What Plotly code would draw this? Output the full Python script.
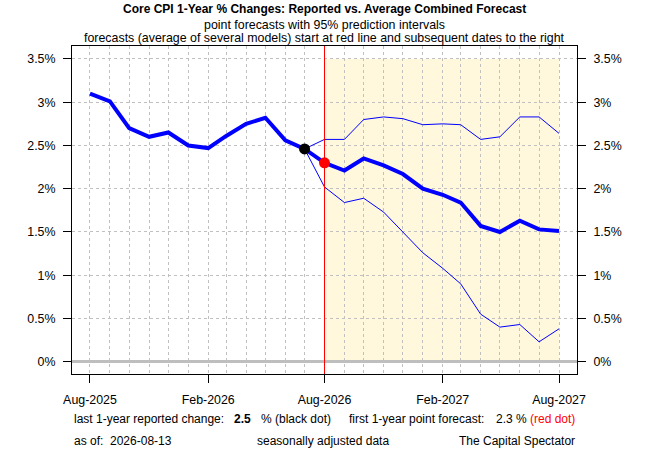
import plotly.graph_objects as go

# reported core CPI, 1-year % change (monthly)
actual_dates = ["2025-08-01", "2025-09-01", "2025-10-01", "2025-11-01", "2025-12-01", "2026-01-01",
                "2026-02-01", "2026-03-01", "2026-04-01", "2026-05-01", "2026-06-01", "2026-07-01"]
actual_vals = [3.10, 3.01, 2.70, 2.60, 2.65, 2.50, 2.47, 2.61, 2.75, 2.82, 2.56, 2.46]

# average combined forecast with 95% prediction interval
fc_dates = ["2026-08-01", "2026-09-01", "2026-10-01", "2026-11-01", "2026-12-01", "2027-01-01", "2027-02-01",
            "2027-03-01", "2027-04-01", "2027-05-01", "2027-06-01", "2027-07-01", "2027-08-01"]
fc_mean = [2.30, 2.21, 2.35, 2.27, 2.17, 2.00, 1.93, 1.84, 1.57, 1.50, 1.63, 1.53, 1.51]
fc_upper = [2.57, 2.57, 2.80, 2.83, 2.81, 2.74, 2.75, 2.74, 2.57, 2.60, 2.83, 2.83, 2.64]
fc_lower = [2.02, 1.84, 1.89, 1.73, 1.50, 1.26, 1.08, 0.90, 0.55, 0.40, 0.43, 0.23, 0.38]

tick_dates = ["2025-08-01", "2026-02-01", "2026-08-01", "2027-02-01", "2027-08-01"]
tick_labels = ["Aug-2025", "Feb-2026", "Aug-2026", "Feb-2027", "Aug-2027"]
y_ticks = [0, 0.5, 1, 1.5, 2, 2.5, 3, 3.5]
y_labels = ["0%", "0.5%", "1%", "1.5%", "2%", "2.5%", "3%", "3.5%"]

FONT = "Liberation Sans, Arial, sans-serif"
FS = 12.4
GRID = "#c0c0c0"

fig = go.Figure()

# bands start at the last reported point
band_x = [actual_dates[-1]] + fc_dates
fig.add_trace(go.Scatter(x=band_x, y=[actual_vals[-1]] + fc_upper, mode="lines",
                         line=dict(color="#0000ff", width=1), hoverinfo="skip"))
fig.add_trace(go.Scatter(x=band_x, y=[actual_vals[-1]] + fc_lower, mode="lines",
                         line=dict(color="#0000ff", width=1), hoverinfo="skip"))
fig.add_trace(go.Scatter(x=actual_dates + fc_dates, y=actual_vals + fc_mean, mode="lines",
                         line=dict(color="#0000ff", width=4)))
fig.add_trace(go.Scatter(x=[actual_dates[-1]], y=[actual_vals[-1]], mode="markers",
                         marker=dict(color="black", size=11)))
fig.add_trace(go.Scatter(x=[fc_dates[0]], y=[fc_mean[0]], mode="markers", yaxis="y2",
                         marker=dict(color="red", size=11)))

# forecast zone
fig.add_shape(type="rect", xref="x", yref="y", x0=fc_dates[0], x1=fc_dates[-1],
              y0=y_ticks[0], y1=y_ticks[-1], fillcolor="#fff8dc", line_width=0, layer="below")
fig.add_shape(type="line", xref="x", yref="paper", x0=fc_dates[0], x1=fc_dates[0], y0=0, y1=1,
              line=dict(color="red", width=1), layer="above")

yax = dict(range=[-0.142, 3.65], tickvals=y_ticks, ticktext=y_labels, ticks="outside", ticklen=8,
           tickcolor="black", showline=True, linecolor="black", linewidth=1,
           tickfont=dict(size=FS, color="black", family=FONT), ticklabelstandoff=5)

fig.update_layout(
    width=650, height=450,
    margin=dict(l=72, r=73, t=46, b=76),
    paper_bgcolor="white", plot_bgcolor="white",
    showlegend=False,
    font=dict(family=FONT, size=FS, color="black"),
    xaxis=dict(type="date", range=["2025-07-04", "2027-08-29"], tickvals=tick_dates, ticktext=tick_labels,
               ticks="outside", ticklen=8, tickcolor="black", showline=True, mirror=True,
               linecolor="black", linewidth=1, showgrid=True, gridcolor=GRID, griddash="dot",
               tickfont=dict(size=FS, color="black", family=FONT), ticklabelstandoff=6,
               minor=dict(dtick="M1", tick0="2025-08-01", showgrid=True, gridcolor=GRID,
                          griddash="dot", ticks="")),
    yaxis=dict(**yax, side="left", showgrid=True, gridcolor=GRID, griddash="dot",
               zeroline=True, zerolinecolor="#bebebe", zerolinewidth=3),
    yaxis2=dict(**yax, side="right", overlaying="y", matches="y", showgrid=False, zeroline=False),
)

ann = []
top_lines = [("<b>Core CPI 1-Year % Changes: Reported vs. Average Combined Forecast</b>", 1.114, 12),
             ("point forecasts with 95% prediction intervals", 1.064, FS),
             ("forecasts (average of several models) start at red line and subsequent dates to the right", 1.024, FS)]
for txt, yy, sz in top_lines:
    ann.append(dict(text=txt, x=0.5, y=yy, xanchor="center", font=dict(size=sz)))

l1, l2 = -0.138, -0.203
ann += [
    dict(text="last 1-year reported change:", x=0, y=l1, xanchor="left"),
    dict(text="<b>%.1f</b>" % actual_vals[-1], x=0.316, y=l1, xanchor="left"),
    dict(text="% (black dot)", x=0.370, y=l1, xanchor="left"),
    dict(text="first 1-year point forecast:", x=0.545, y=l1, xanchor="left"),
    dict(text="%.1f %%" % fc_mean[0], x=0.836, y=l1, xanchor="left"),
    dict(text="(red dot)", x=1, y=l1, xanchor="right", font=dict(color="red")),
    dict(text="as of:  2026-08-13", x=0, y=l2, xanchor="left"),
    dict(text="seasonally adjusted data", x=0.498, y=l2, xanchor="center"),
    dict(text="The Capital Spectator", x=1, y=l2, xanchor="right"),
]
for a in ann:
    a.update(xref="paper", yref="paper", yanchor="middle", showarrow=False)
    a.setdefault("font", {})
    a["font"] = dict(dict(size=12, family=FONT, color="black"), **a["font"])
fig.update_layout(annotations=ann)

# the page's default body margin would push the figure 8px off the window origin
fig.write_html("out.html", config={"displayModeBar": False},
               post_script="document.body.style.margin='0';")
